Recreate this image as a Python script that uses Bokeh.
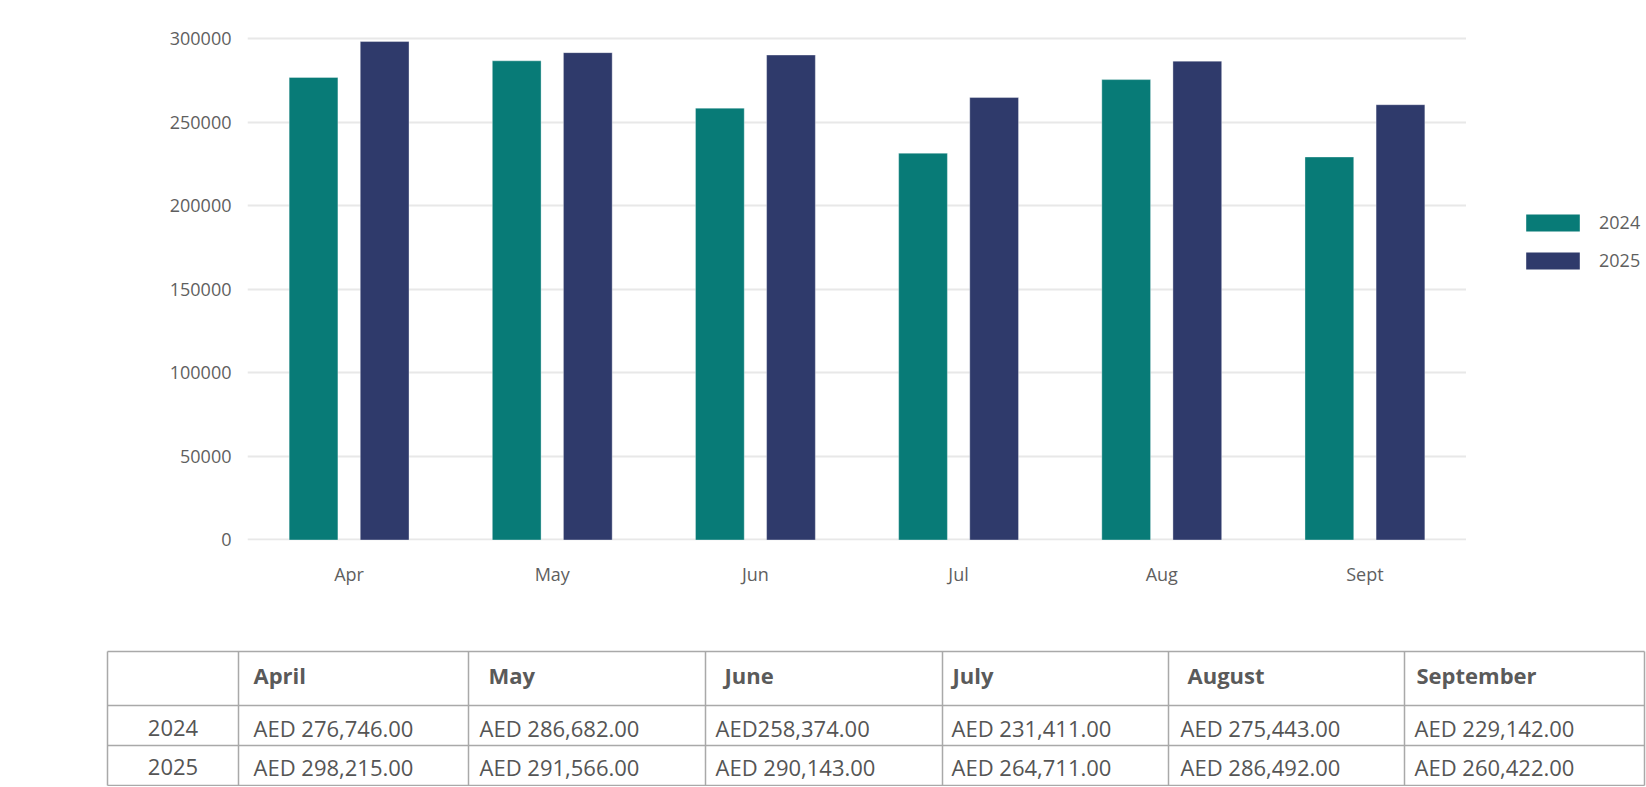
from bokeh.plotting import figure
from bokeh.models import (ColumnDataSource, FactorRange, Range1d, FixedTicker,
                          NumeralTickFormatter, Legend, LegendItem)
from bokeh.transform import dodge
from bokeh.layouts import column, row
from bokeh.core.properties import value
from bokeh.embed import file_html
from bokeh.resources import INLINE

# ---------------- data ----------------
months_short = ["Apr", "May", "Jun", "Jul", "Aug", "Sept"]
months_full = ["April", "May", "June", "July", "August", "September"]
sales_2024 = [276746, 286682, 258374, 231411, 275443, 229142]
sales_2025 = [298215, 291566, 290143, 264711, 286492, 260422]
table_2024 = ["AED 276,746.00", "AED 286,682.00", "AED258,374.00", "AED 231,411.00",
              "AED 275,443.00", "AED 229,142.00"]
table_2025 = ["AED 298,215.00", "AED 291,566.00", "AED 290,143.00", "AED 264,711.00",
              "AED 286,492.00", "AED 260,422.00"]
years = ["2024", "2025"]
y_ticks = [0, 50000, 100000, 150000, 200000, 250000, 300000]

# ---------------- styles ----------------
FONT = "Open Sans"
TEAL = "#087b77"
NAVY = "#2f3a6b"
TXT = "#5f5f5f"
GRID = "#e8e8e8"

PW = 1466          # chart figure width
LW = 180           # legend figure width
W = PW + LW
CH = 630
TH = 156

# ---------------- chart ----------------
src = ColumnDataSource(dict(month=months_short, y2024=sales_2024, y2025=sales_2025))

p = figure(x_range=FactorRange(*months_short, range_padding=0),
           y_range=Range1d(-300, 312000),
           width=PW, height=CH, output_backend="svg", toolbar_location=None,
           min_border_left=247, min_border_right=0, min_border_top=18,
           min_border_bottom=CH - 540)
p.frame_align = False
p.outline_line_color = None
p.background_fill_color = "white"

bar_style = dict(width=0.24, line_color="#ffffff", line_alpha=0.35, line_width=1)
p.vbar(x=dodge("month", -0.175, range=p.x_range), top="y2024", source=src,
       fill_color=TEAL, **bar_style)
p.vbar(x=dodge("month", 0.175, range=p.x_range), top="y2025", source=src,
       fill_color=NAVY, **bar_style)

p.yaxis.ticker = FixedTicker(ticks=y_ticks)
p.yaxis.formatter = NumeralTickFormatter(format="0")
for ax in (p.xaxis[0], p.yaxis[0]):
    ax.axis_line_color = None
    ax.major_tick_line_color = None
    ax.minor_tick_line_color = None
    ax.major_tick_out = 0
    ax.major_tick_in = 0
    ax.minor_tick_out = 0
    ax.major_label_text_font = FONT
    ax.major_label_text_font_size = "18px"
    ax.major_label_text_color = TXT
p.yaxis.major_label_standoff = 16
p.xaxis.major_label_standoff = 21

p.xgrid.grid_line_color = None
p.ygrid.ticker = FixedTicker(ticks=y_ticks)
p.ygrid.grid_line_color = GRID
p.ygrid.grid_line_width = 2

# ---------------- legend (own panel to the right of the chart) ----------------
# the same bars, drawn into a view that lies above all values, so only the legend shows
lf = figure(x_range=FactorRange(*months_short), y_range=Range1d(400000, 500000),
            width=LW, height=CH, output_backend="svg", toolbar_location=None,
            min_border=0, min_border_left=0, min_border_right=0,
            min_border_top=0, min_border_bottom=0)
lf.frame_align = False
lf.axis.visible = False
lf.grid.visible = False
lf.outline_line_color = None
lr1 = lf.vbar(x="month", top="y2024", width=0.24, source=src, fill_color=TEAL, line_color=None)
lr2 = lf.vbar(x="month", top="y2025", width=0.24, source=src, fill_color=NAVY, line_color=None)
legend = Legend(items=[LegendItem(label=years[0], renderers=[lr1]),
                       LegendItem(label=years[1], renderers=[lr2])],
                location=(53, 358), padding=0, margin=0, spacing=14,
                glyph_width=67, glyph_height=21, label_height=17,
                label_standoff=13, label_text_font=FONT,
                label_text_font_size="18px", label_text_color=TXT,
                border_line_color=None, background_fill_alpha=0)
lf.add_layout(legend, "center")

# ---------------- table ----------------
col_edges = [107, 238, 468, 705, 942, 1168, 1404, 1644]
row_edges = [21, 75, 115, 155]
head_pad = [15, 20, 19, 10, 19, 12]
val_pad = [15, 11, 10, 9, 12, 10]

t = figure(x_range=Range1d(0, W), y_range=Range1d(TH, 0), width=W, height=TH,
           output_backend="svg", toolbar_location=None,
           min_border=0, min_border_left=0, min_border_right=0,
           min_border_top=0, min_border_bottom=0)
t.frame_align = False
t.axis.visible = False
t.grid.visible = False
t.outline_line_color = None

LINE = "#a9a9a9"
t.segment(x0=[col_edges[0]] * len(row_edges), x1=[col_edges[-1]] * len(row_edges),
          y0=row_edges, y1=row_edges, line_color=LINE, line_width=1.5)
t.segment(x0=col_edges, x1=col_edges, y0=[row_edges[0]] * len(col_edges),
          y1=[row_edges[-1]] * len(col_edges), line_color=LINE, line_width=1.5)

hx = [c + d for c, d in zip(col_edges[1:-1], head_pad)]
vx = [c + d for c, d in zip(col_edges[1:-1], val_pad)]
hy = (row_edges[0] + row_edges[1]) / 2 - 4
r1y = (row_edges[1] + row_edges[2]) / 2 + 2
r2y = (row_edges[2] + row_edges[3]) / 2 + 1

t.text(x=hx, y=[hy] * 6, text=months_full, text_font=value(FONT),
       text_font_size="22px", text_font_style="bold", text_color="#5a5a5a",
       text_baseline="middle", text_align="left")
t.text(x=vx, y=[r1y] * 6, text=table_2024, text_font=value(FONT),
       text_font_size="22px", text_color="#555555",
       text_baseline="middle", text_align="left")
t.text(x=vx, y=[r2y] * 6, text=table_2025, text_font=value(FONT),
       text_font_size="22px", text_color="#555555",
       text_baseline="middle", text_align="left")
cx = (col_edges[0] + col_edges[1]) / 2
t.text(x=[cx, cx], y=[r1y, r2y], text=years, text_font=value(FONT),
       text_font_size="22px", text_color="#555555",
       text_baseline="middle", text_align="center")

layout = column(row(p, lf, spacing=0), t, spacing=0)
open("out.html", "w").write(file_html(layout, INLINE))
